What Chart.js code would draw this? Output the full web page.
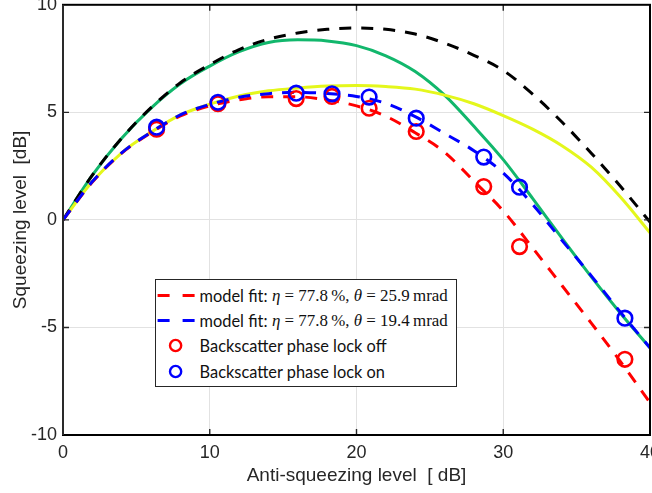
<!DOCTYPE html>
<html>
<head>
<meta charset="utf-8">
<script src="https://cdn.jsdelivr.net/npm/chart.js@4.4.1/dist/chart.umd.min.js"></script>
<style>
html,body{margin:0;padding:0;background:#fff;}
body{width:652px;height:493px;overflow:hidden;position:relative;}
#wrap{position:absolute;left:0;top:0;}
#c{display:block;}
#legend{position:absolute;left:155px;top:279px;width:302px;height:108px;box-sizing:border-box;border:1.4px solid #262626;background:#fff;}
.row{position:absolute;left:0;height:25px;width:298px;}
.row svg{position:absolute;left:0;top:0;}
.lab{position:absolute;top:0;line-height:25px;white-space:nowrap;color:#111;}
.sans{font-family:Lato,'Open Sans',sans-serif;font-size:17px;}
.math{font-family:'Liberation Serif','DejaVu Serif',serif;font-size:17px;}
</style>
</head>
<body>
<div id="wrap"><canvas id="c" width="700" height="520"></canvas></div>
<div id="legend"></div>
<script>
// ---------- data ----------
const curveX       = [0, 2, 4, 6, 8, 10, 12, 14, 16, 18, 20, 22, 24, 26, 28, 30, 32, 34, 36, 38, 40];
const idealModel   = [0, 2.08, 3.8, 5.22, 6.38, 7.22, 7.92, 8.4, 8.69, 8.86, 8.92, 8.86, 8.64, 8.22, 7.65, 6.95, 5.85, 4.55, 3.1, 1.55, -0.1];
const greenModel   = [0, 2.08, 3.8, 5.2, 6.33, 7.15, 7.82, 8.25, 8.37, 8.32, 8.1, 7.63, 6.9, 5.8, 4.35, 2.8, 1.0, -0.85, -2.65, -4.35, -5.95];
const yellowModel  = [0, 1.78, 3.12, 4.08, 4.88, 5.38, 5.76, 6.0, 6.13, 6.22, 6.25, 6.2, 6.08, 5.8, 5.4, 4.85, 4.22, 3.45, 2.45, 1.05, -0.6];
const fitLockOn    = [0, 1.78, 3.12, 4.08, 4.88, 5.37, 5.7, 5.87, 5.93, 5.88, 5.74, 5.42, 4.8, 4.02, 3.22, 2.18, 0.72, -0.95, -2.6, -4.3, -5.95];
const fitLockOff   = [0, 1.76, 3.1, 4.05, 4.83, 5.3, 5.58, 5.72, 5.72, 5.58, 5.3, 4.82, 4.05, 3.15, 1.8, 0.42, -1.3, -3.05, -4.8, -6.6, -8.5];
const measX        = [6.38, 10.56, 15.89, 18.33, 20.86, 24.07, 28.67, 31.11, 38.29];
const measLockOff  = [4.22, 5.40, 5.64, 5.74, 5.19, 4.11, 1.55, -1.24, -6.48];
const measLockOn   = [4.31, 5.47, 5.89, 5.86, 5.71, 4.73, 2.92, 1.52, -4.57];
const xTicks = [0, 10, 20, 30, 40];
const yTicks = [-10, -5, 0, 5, 10];
const fitPrefix = 'model fit:';
const fitEta   = ['77.8', '77.8'];
const fitTheta = ['25.9', '19.4'];
const measLabels = ['Backscatter phase lock off', 'Backscatter phase lock on'];
const xTitle = 'Anti-squeezing level  [ dB]';
const yTitle = 'Squeezing level  [dB]';

// ---------- layout ----------
const PLOT = {left: 63, right: 650, top: 5, bottom: 435};
const RED = '#ff0000', BLUE = '#0000ff', GREEN = '#12b76c', YELLOW = '#e4f71c', BLACK = '#000000';
const DASH = [12, 10];
const tickFont = {family: "'Liberation Sans', Arial, sans-serif", size: 18};
const titleFont = {family: "'Liberation Sans', Arial, sans-serif", size: 19};

const pts = (xs, ys) => xs.map((x, i) => ({x: x, y: ys[i]}));
const curve = (label, ys, color, dash, order) => ({
  label: label, data: pts(curveX, ys), borderColor: color, backgroundColor: color,
  borderWidth: 3, borderDash: dash, pointRadius: 0, fill: false,
  cubicInterpolationMode: 'monotone', order: order, borderCapStyle: 'butt'
});
const markers = (label, ys, color, order) => ({
  label: label, data: pts(measX, ys), showLine: false, borderColor: color,
  pointBorderColor: color, pointBackgroundColor: 'rgba(0,0,0,0)', pointRadius: 7.3,
  pointBorderWidth: 2.6, pointStyle: 'circle', order: order
});

const datasets = [
  markers(measLabels[1], measLockOn, BLUE, 1),
  markers(measLabels[0], measLockOff, RED, 2),
  curve('fit on', fitLockOn, BLUE, DASH, 3),
  curve('fit off', fitLockOff, RED, DASH, 4),
  curve('ideal', idealModel, BLACK, DASH, 5),
  curve('yellow', yellowModel, YELLOW, [], 6),
  curve('green', greenModel, GREEN, [], 7)
];

const framePlugin = {
  id: 'frame',
  afterDatasetsDraw(chart) {
    const {ctx, chartArea: a, scales: {x, y}} = chart;
    ctx.save();
    const L = 6;
    ctx.lineWidth = 1.4;
    ctx.strokeStyle = '#262626';
    ctx.beginPath();
    x.ticks.forEach(t => {
      if (t.value <= x.min || t.value >= x.max) return;
      const p = x.getPixelForValue(t.value);
      ctx.moveTo(p, a.bottom); ctx.lineTo(p, a.bottom - L);
      ctx.moveTo(p, a.top); ctx.lineTo(p, a.top + L);
    });
    y.ticks.forEach(t => {
      if (t.value <= y.min || t.value >= y.max) return;
      const p = y.getPixelForValue(t.value);
      ctx.moveTo(a.left, p); ctx.lineTo(a.left + L, p);
      ctx.moveTo(a.right, p); ctx.lineTo(a.right - L, p);
    });
    ctx.stroke();
    ctx.lineWidth = 2;
    ctx.strokeStyle = '#000';
    ctx.strokeRect(a.left, a.top, a.right - a.left, a.bottom - a.top);
    ctx.strokeStyle = '#2a2a2a';
    ctx.beginPath(); ctx.moveTo(a.left, a.top); ctx.lineTo(a.left, a.bottom); ctx.stroke();
    ctx.restore();
  }
};

const canvas = document.getElementById('c');
const chart = new Chart(canvas, {
  type: 'line',
  data: {datasets: datasets},
  options: {
    responsive: false, maintainAspectRatio: false, animation: false, devicePixelRatio: 1,
    layout: {padding: {left: 0, right: 20, top: 16, bottom: 0}},
    plugins: {legend: {display: false}, tooltip: {enabled: false}},
    scales: {
      x: {
        type: 'linear', min: 0, max: 40,
        afterBuildTicks: s => { s.ticks = xTicks.map(v => ({value: v})); },
        afterFit: s => { s.height = 58; },
        grid: {color: '#e2e2e2', lineWidth: 1, drawTicks: false},
        border: {display: false},
        ticks: {padding: 7, color: '#262626', font: tickFont, maxRotation: 0, autoSkip: false, callback: v => String(v)},
        title: {display: true, text: xTitle, color: '#262626', font: titleFont, padding: {top: 0, bottom: 6}}
      },
      y: {
        type: 'linear', min: -10, max: 10,
        afterBuildTicks: s => { s.ticks = yTicks.map(v => ({value: v})); },
        afterFit: s => { s.width = 63; },
        grid: {color: '#e2e2e2', lineWidth: 1, drawTicks: false},
        border: {display: false},
        ticks: {padding: 6, color: '#262626', font: tickFont, autoSkip: false, callback: v => String(v)},
        title: {display: true, text: yTitle, color: '#262626', font: titleFont, padding: {top: 9, bottom: 0}}
      }
    }
  },
  plugins: [framePlugin]
});

// place the canvas so that the plot area lands where the reference has it
(function place() {
  const a = chart.chartArea;
  const mL = a.left, mT = a.top, mR = chart.width - a.right, mB = chart.height - a.bottom;
  chart.resize(Math.round(mL + PLOT.right - PLOT.left + mR), Math.round(mT + PLOT.bottom - PLOT.top + mB));
  const b = chart.chartArea;
  const wrap = document.getElementById('wrap');
  wrap.style.left = Math.round(PLOT.left - b.left) + 'px';
  wrap.style.top = Math.round(PLOT.top - b.top) + 'px';
})();

// ---------- legend (HTML, built from the arrays) ----------
(function legend() {
  const box = document.getElementById('legend');
  const B = 1.4;
  const centers = [16.7, 41.5, 67, 92.5];
  const rows = [
    {type: 'line', color: RED, eta: fitEta[0], theta: fitTheta[0]},
    {type: 'line', color: BLUE, eta: fitEta[1], theta: fitTheta[1]},
    {type: 'mark', color: RED, text: measLabels[0]},
    {type: 'mark', color: BLUE, text: measLabels[1]}
  ];
  rows.forEach((r, i) => {
    const row = document.createElement('div');
    row.className = 'row';
    row.style.top = (centers[i] - B - 12.5) + 'px';
    let svg;
    if (r.type === 'line') {
      svg = `<svg width="44" height="25"><line x1="${3 - B}" y1="12.5" x2="${40 - B}" y2="12.5" stroke="${r.color}" stroke-width="3" stroke-dasharray="12 13"/></svg>`;
      row.innerHTML = svg +
        `<span class="lab sans" style="left:${45 - B}px">${fitPrefix}</span>` +
        `<span class="lab math" style="left:${116.5 - B}px"><i>η</i> = ${r.eta}&#8201;%, <i>θ</i> = ${r.theta}&#8201;mrad</span>`;
    } else {
      svg = `<svg width="44" height="25"><circle cx="${21 - B}" cy="12.5" r="5.6" fill="none" stroke="${r.color}" stroke-width="2.4"/></svg>`;
      row.innerHTML = svg + `<span class="lab sans" style="left:${45 - B}px">${r.text}</span>`;
    }
    box.appendChild(row);
  });
  const spans = box.querySelectorAll('.lab');
  const target = [['sans', 187, spans[4]], ['math', 176, spans[1]]];
  target.forEach(([cls, w, el]) => {
    const cur = el.getBoundingClientRect().width;
    const fs = parseFloat(getComputedStyle(el).fontSize) * w / cur;
    box.querySelectorAll('.' + cls).forEach(s => s.style.fontSize = fs + 'px');
  });
  const mf = spans[0];
  box.querySelectorAll('.math').forEach(s => s.style.left = (mf.offsetLeft + mf.getBoundingClientRect().width + 4) + 'px');
})();
</script>
</body>
</html>
